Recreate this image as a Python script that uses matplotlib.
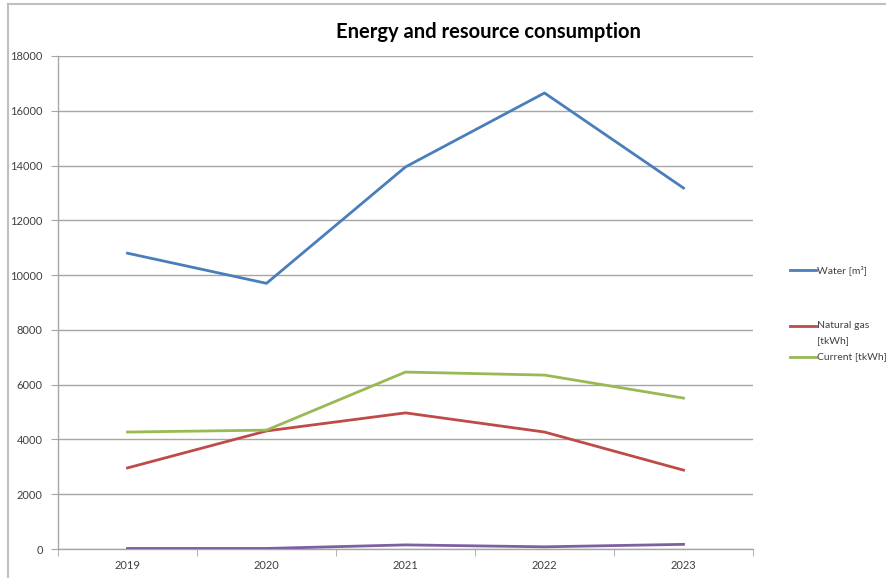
import matplotlib
matplotlib.use("Agg")
import matplotlib.pyplot as plt
from matplotlib.lines import Line2D
import numpy as np

years = ["2019", "2020", "2021", "2022", "2023"]
water = [10800, 9700, 13950, 16650, 13180]
gas = [2960, 4310, 4970, 4270, 2880]
current = [4270, 4340, 6460, 6350, 5510]
other = [20, 20, 150, 80, 170]

legend_labels = ["Water [m³]", "Natural gas\n[tkWh]", "Current [tkWh]"]
colors = ["#4A7EBB", "#BE4B48", "#98B954", "#7D60A0"]

plt.rcParams['font.family'] = ['Lato', 'DejaVu Sans']

fig = plt.figure(figsize=(8.87, 5.78), dpi=100)
ax = fig.add_axes([58/887, 1-549/578, (753-58)/887, (549-56)/578])

x = np.arange(len(years))
lw = 2.0
ax.plot(x, water, color=colors[0], lw=lw, zorder=3)
ax.plot(x, gas, color=colors[1], lw=lw, zorder=3)
ax.plot(x, current, color=colors[2], lw=lw, zorder=3)
ax.plot(x, other, color=colors[3], lw=lw, zorder=3)

ax.set_xlim(-0.5, len(years) - 0.5)
ax.set_ylim(0, 18000)
ax.set_yticks(np.arange(0, 18001, 2000))
ax.yaxis.grid(True, color="#A6A6A6", lw=1.0)
ax.set_axisbelow(True)
ax.set_xticks(x)
ax.set_xticklabels(years)
ax.set_xticks(np.arange(-0.5, len(years), 1.0), minor=True)
ax.tick_params(axis='x', which='major', length=0, pad=8, labelsize=8, labelcolor="#404040")
ax.tick_params(axis='x', which='minor', length=5, color="#A6A6A6", direction='out')
ax.tick_params(axis='y', length=5, color="#A6A6A6", labelsize=8, labelcolor="#404040", pad=6)
for s in ["top", "right"]:
    ax.spines[s].set_visible(False)
for s in ["left", "bottom"]:
    ax.spines[s].set_color("#A6A6A6")
    ax.spines[s].set_linewidth(1.0)

fig.text(488/887, 1-32/578, "Energy and resource consumption", ha='center', va='center',
         fontsize=14.5, fontweight='bold', color="#000000")

# frame of chart area
fig.add_artist(Line2D([8/887, 8/887], [0, 1-4/578], transform=fig.transFigure, color="#BFBFBF", lw=1.5))
fig.add_artist(Line2D([8/887, 1], [1-4/578, 1-4/578], transform=fig.transFigure, color="#BFBFBF", lw=1.5))

# legend
leg_y = [270, 326, 357]
for lab, c, yy in zip(legend_labels, colors[:3], leg_y):
    yf = 1 - yy/578
    fig.add_artist(Line2D([790/887, 816/887], [yf, yf], transform=fig.transFigure, color=c, lw=lw))
    lines = lab.split('\n')
    for i, part in enumerate(lines):
        fig.text(817/887, 1 - (yy + 15*i)/578, part, ha='left', va='center',
                 fontsize=7.5, color="#404040")

fig.savefig("out.png", dpi=100)
